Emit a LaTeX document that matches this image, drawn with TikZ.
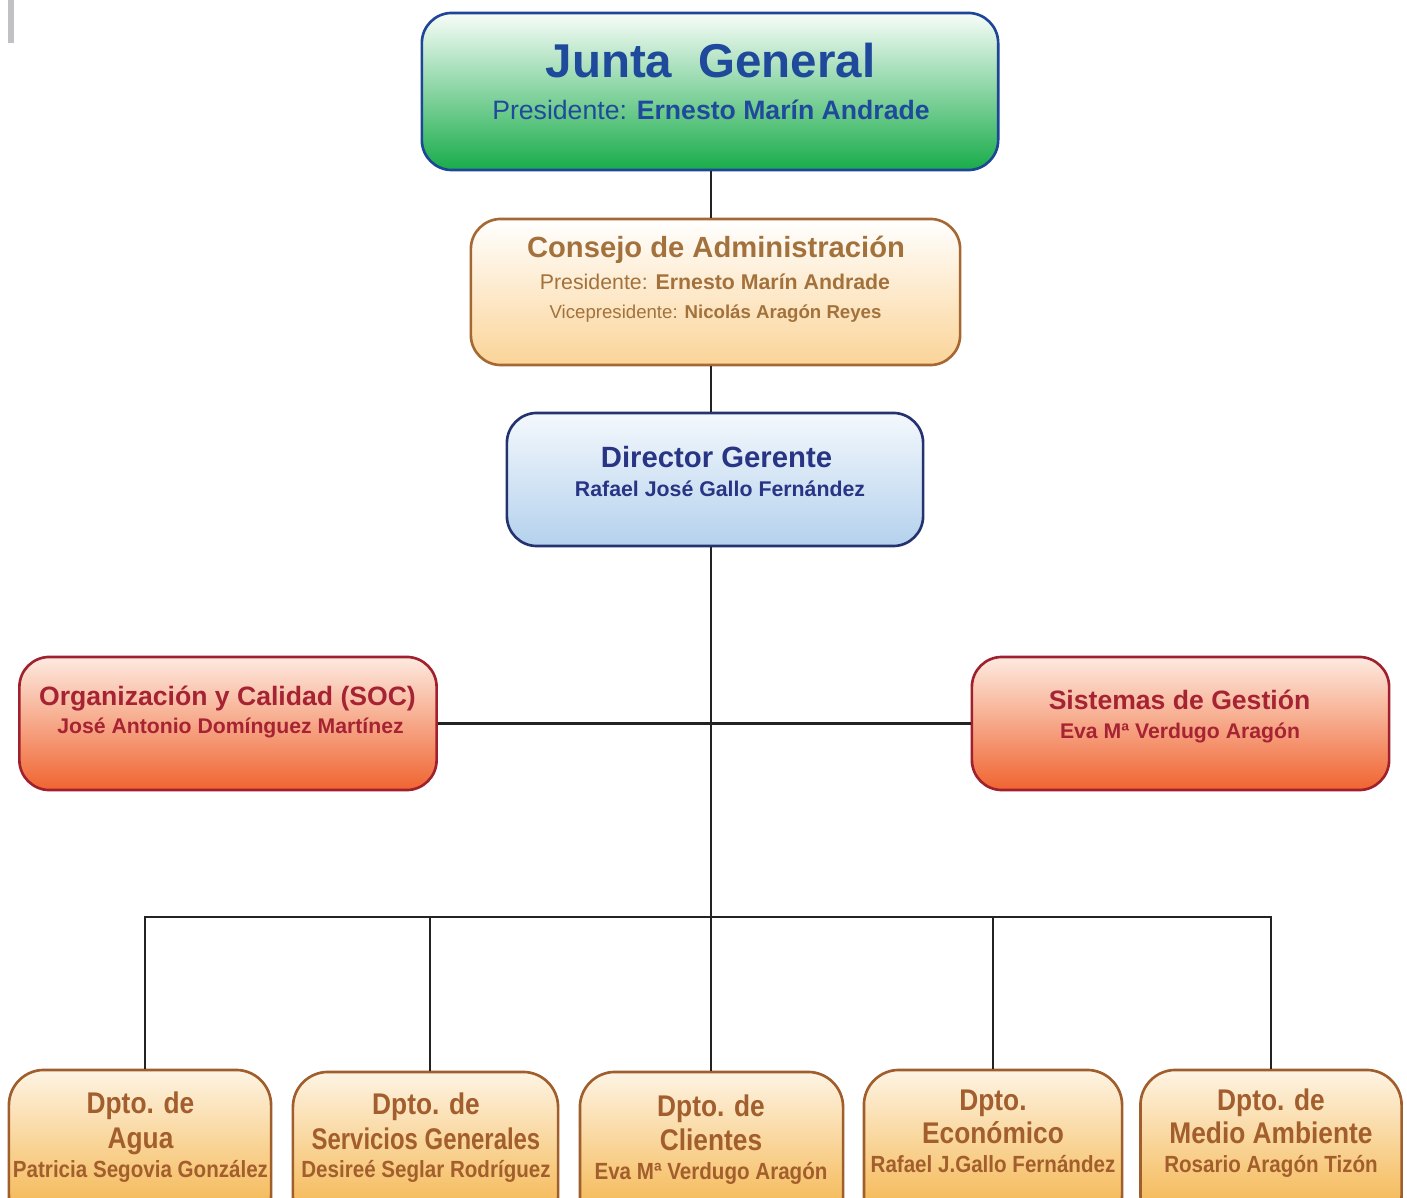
\documentclass[tikz,border=0pt]{standalone}
\usepackage{fontspec}
\usepackage{tikz}
\setmainfont{Liberation Sans}
\newfontfamily\narrowsf[FakeStretch=0.88]{Liberation Sans}
\newfontfamily\narrowersf[FakeStretch=0.8]{Liberation Sans}

\definecolor{juntaline}{RGB}{30,70,150}
\definecolor{juntatext}{RGB}{31,74,156}
\definecolor{juntagreen}{RGB}{24,172,74}
\definecolor{consejoline}{RGB}{166,104,50}
\definecolor{consejotext}{RGB}{163,114,60}
\definecolor{consejofill}{RGB}{251,212,152}
\definecolor{directorline}{RGB}{36,50,112}
\definecolor{directortext}{RGB}{40,52,132}
\definecolor{directorfill}{RGB}{180,209,237}
\definecolor{redline}{RGB}{160,32,46}
\definecolor{redtext}{RGB}{165,35,50}
\definecolor{redfill}{RGB}{240,100,48}
\definecolor{redtop}{RGB}{253,234,224}
\definecolor{dptoline}{RGB}{160,94,44}
\definecolor{dptotext}{RGB}{162,94,44}
\definecolor{dptofill}{RGB}{243,175,62}
\definecolor{dptotop}{RGB}{254,244,228}
\definecolor{linkgray}{RGB}{35,35,35}

\begin{document}
\begin{tikzpicture}[x=0.01cm,y=-0.01cm]
    \tikzstyle{box} = [draw, rounded corners=0.3cm, line width=0.75pt]
    \tikzstyle{link} = [line width=0.8pt, draw=linkgray]
    \tikzstyle{junta} = [box, draw=juntaline, top color=white!97!juntagreen, bottom color=juntagreen, minimum width=5.76cm, minimum height=1.57cm]
    \tikzstyle{consejo} = [box, draw=consejoline, top color=white, bottom color=consejofill, minimum width=4.89cm, minimum height=1.46cm]
    \tikzstyle{director} = [box, draw=directorline, top color=white!85!directorfill, bottom color=directorfill, minimum width=4.16cm, minimum height=1.33cm]
    \tikzstyle{area} = [box, draw=redline, top color=redtop, bottom color=redfill, minimum width=4.17cm, minimum height=1.33cm]
    \tikzstyle{dpto} = [box, draw=dptoline, top color=dptotop, bottom color=dptofill, minimum height=1.6cm, rounded corners=0.35cm]
    \tikzstyle{dptotitle} = [anchor=base, inner sep=0pt, text=dptotext, font=\narrowsf\fontsize{8.5}{10}\selectfont\bfseries]
    \tikzstyle{dptoname} = [anchor=base, inner sep=0pt, text=dptotext, font=\narrowsf\fontsize{6.65}{8}\selectfont\bfseries]

    \useasboundingbox (0,0) rectangle (1407,1198);
    \clip (0,0) rectangle (1407,1198);

    % Grey mark in the corner
    \fill [fill={rgb,255:red,192;green,192;blue,197}] (8,0) rectangle (14,43);

    % Junta General, top box
    \node [junta] (Junta) at (710,91.5) {};
    \node [anchor=base, inner sep=0pt, text=juntatext, font=\fontsize{13.5}{16}\selectfont\bfseries] (JuntaTitle) at (710.5,78) {Junta\ \ General};
    \node [anchor=base, inner sep=0pt, text=juntatext, font=\fontsize{7.57}{9}\selectfont] (JuntaPres) at (711,120) {Presidente: \textbf{Ernesto Marín Andrade}};

    % Consejo de Administracion
    \node [consejo] (Consejo) at (715.5,292) {};
    \node [anchor=base, inner sep=0pt, text=consejotext, font=\fontsize{8.3}{10}\selectfont\bfseries] (ConsejoTitle) at (716,258) {Consejo de Administración};
    \node [anchor=base, inner sep=0pt, text=consejotext, font=\fontsize{6.06}{7}\selectfont] (ConsejoPres) at (715,290) {Presidente: \textbf{Ernesto Marín Andrade}};
    \node [anchor=base, inner sep=0pt, text=consejotext, font=\fontsize{5.3}{6}\selectfont] (ConsejoVice) at (715.5,319) {Vicepresidente: \textbf{Nicolás Aragón Reyes}};
    \draw [link] (Junta.south -| JuntaPres) -- (Consejo.north -| JuntaPres);

    % Director Gerente
    \node [director] (Director) at (715,479.5) {};
    \node [anchor=base, inner sep=0pt, text=directortext, font=\fontsize{8.33}{10}\selectfont\bfseries] (DirectorTitle) at (716.5,468) {Director Gerente};
    \node [anchor=base, inner sep=0pt, text=directortext, font=\fontsize{6.06}{7}\selectfont\bfseries] (DirectorName) at (720,497) {Rafael José Gallo Fernández};
    \draw [link] (Consejo.south -| JuntaPres) -- (Director.north -| JuntaPres);

    % Left side box, Organizacion y Calidad
    \node [area] (Calidad) at (228,723.5) {};
    \node [anchor=base, inner sep=0pt, text=redtext, font=\fontsize{7.56}{9}\selectfont\bfseries] (CalidadTitle) at (227.5,705) {Organización y Calidad (SOC)};
    \node [anchor=base, inner sep=0pt, text=redtext, font=\fontsize{6.03}{7}\selectfont\bfseries] (CalidadName) at (230.5,733) {José Antonio Domínguez Martínez};

    % Right side box, Sistemas de Gestion
    \node [area] (Sistemas) at (1180.5,723.5) {};
    \node [anchor=base, inner sep=0pt, text=redtext, font=\fontsize{7.56}{9}\selectfont\bfseries] (SistemasTitle) at (1179.5,709) {Sistemas de Gestión};
    \node [anchor=base, inner sep=0pt, text=redtext, font=\fontsize{6.03}{7}\selectfont\bfseries] (SistemasName) at (1180,738) {Eva Mª Verdugo Aragón};
    \draw [link] (Calidad.east) -- (Sistemas.west);

    % Bottom row, first department
    \node [dpto, minimum width=2.62cm] (Agua) at (140,1150) {};
    \node [dptotitle] (AguaTop) at (140.5,1113) {Dpto. de};
    \node [dptotitle] (AguaMid) at (140.5,1148) {Agua};
    \node [dptoname] (AguaName) at (140.5,1177) {Patricia Segovia González};

    % Bottom row, second department
    \node [dpto, minimum width=2.65cm] (Servicios) at (425.5,1152) {};
    \node [dptotitle] (ServiciosTop) at (426,1114) {Dpto. de};
    \node [dptotitle, font=\narrowersf\fontsize{8.5}{10}\selectfont\bfseries] (ServiciosMid) at (426,1149) {Servicios Generales};
    \node [dptoname] (ServiciosName) at (426,1177) {Desireé Seglar Rodríguez};

    % Bottom row, third department
    \node [dpto, minimum width=2.63cm] (Clientes) at (711.5,1152) {};
    \node [dptotitle] (ClientesTop) at (711,1116) {Dpto. de};
    \node [dptotitle] (ClientesMid) at (711,1150) {Clientes};
    \node [dptoname] (ClientesName) at (711,1179) {Eva Mª Verdugo Aragón};

    % Bottom row, fourth department
    \node [dpto, minimum width=2.58cm] (Economico) at (993,1150) {};
    \node [dptotitle] (EconomicoTop) at (993,1110) {Dpto.};
    \node [dptotitle] (EconomicoMid) at (993,1143) {Económico};
    \node [dptoname] (EconomicoName) at (993,1172) {Rafael J.Gallo Fernández};

    % Bottom row, fifth department
    \node [dpto, minimum width=2.61cm] (Ambiente) at (1271,1150) {};
    \node [dptotitle] (AmbienteTop) at (1271,1110) {Dpto. de};
    \node [dptotitle] (AmbienteMid) at (1271,1143) {Medio Ambiente};
    \node [dptoname] (AmbienteName) at (1271,1172) {Rosario Aragón Tizón};

    % Trunk and bus to the departments
    \coordinate (Bus) at (711,917);
    \draw [link] (Director.south -| JuntaPres) -- (Clientes.north -| JuntaPres);
    \draw [link] ([xshift=0.05cm]Agua.north) |- (Bus);
    \draw [link] ([xshift=0.045cm]Servicios.north) |- (Bus);
    \draw [link] (Economico.north) |- (Bus);
    \draw [link] (Ambiente.north) |- (Bus);
\end{tikzpicture}
\end{document}
